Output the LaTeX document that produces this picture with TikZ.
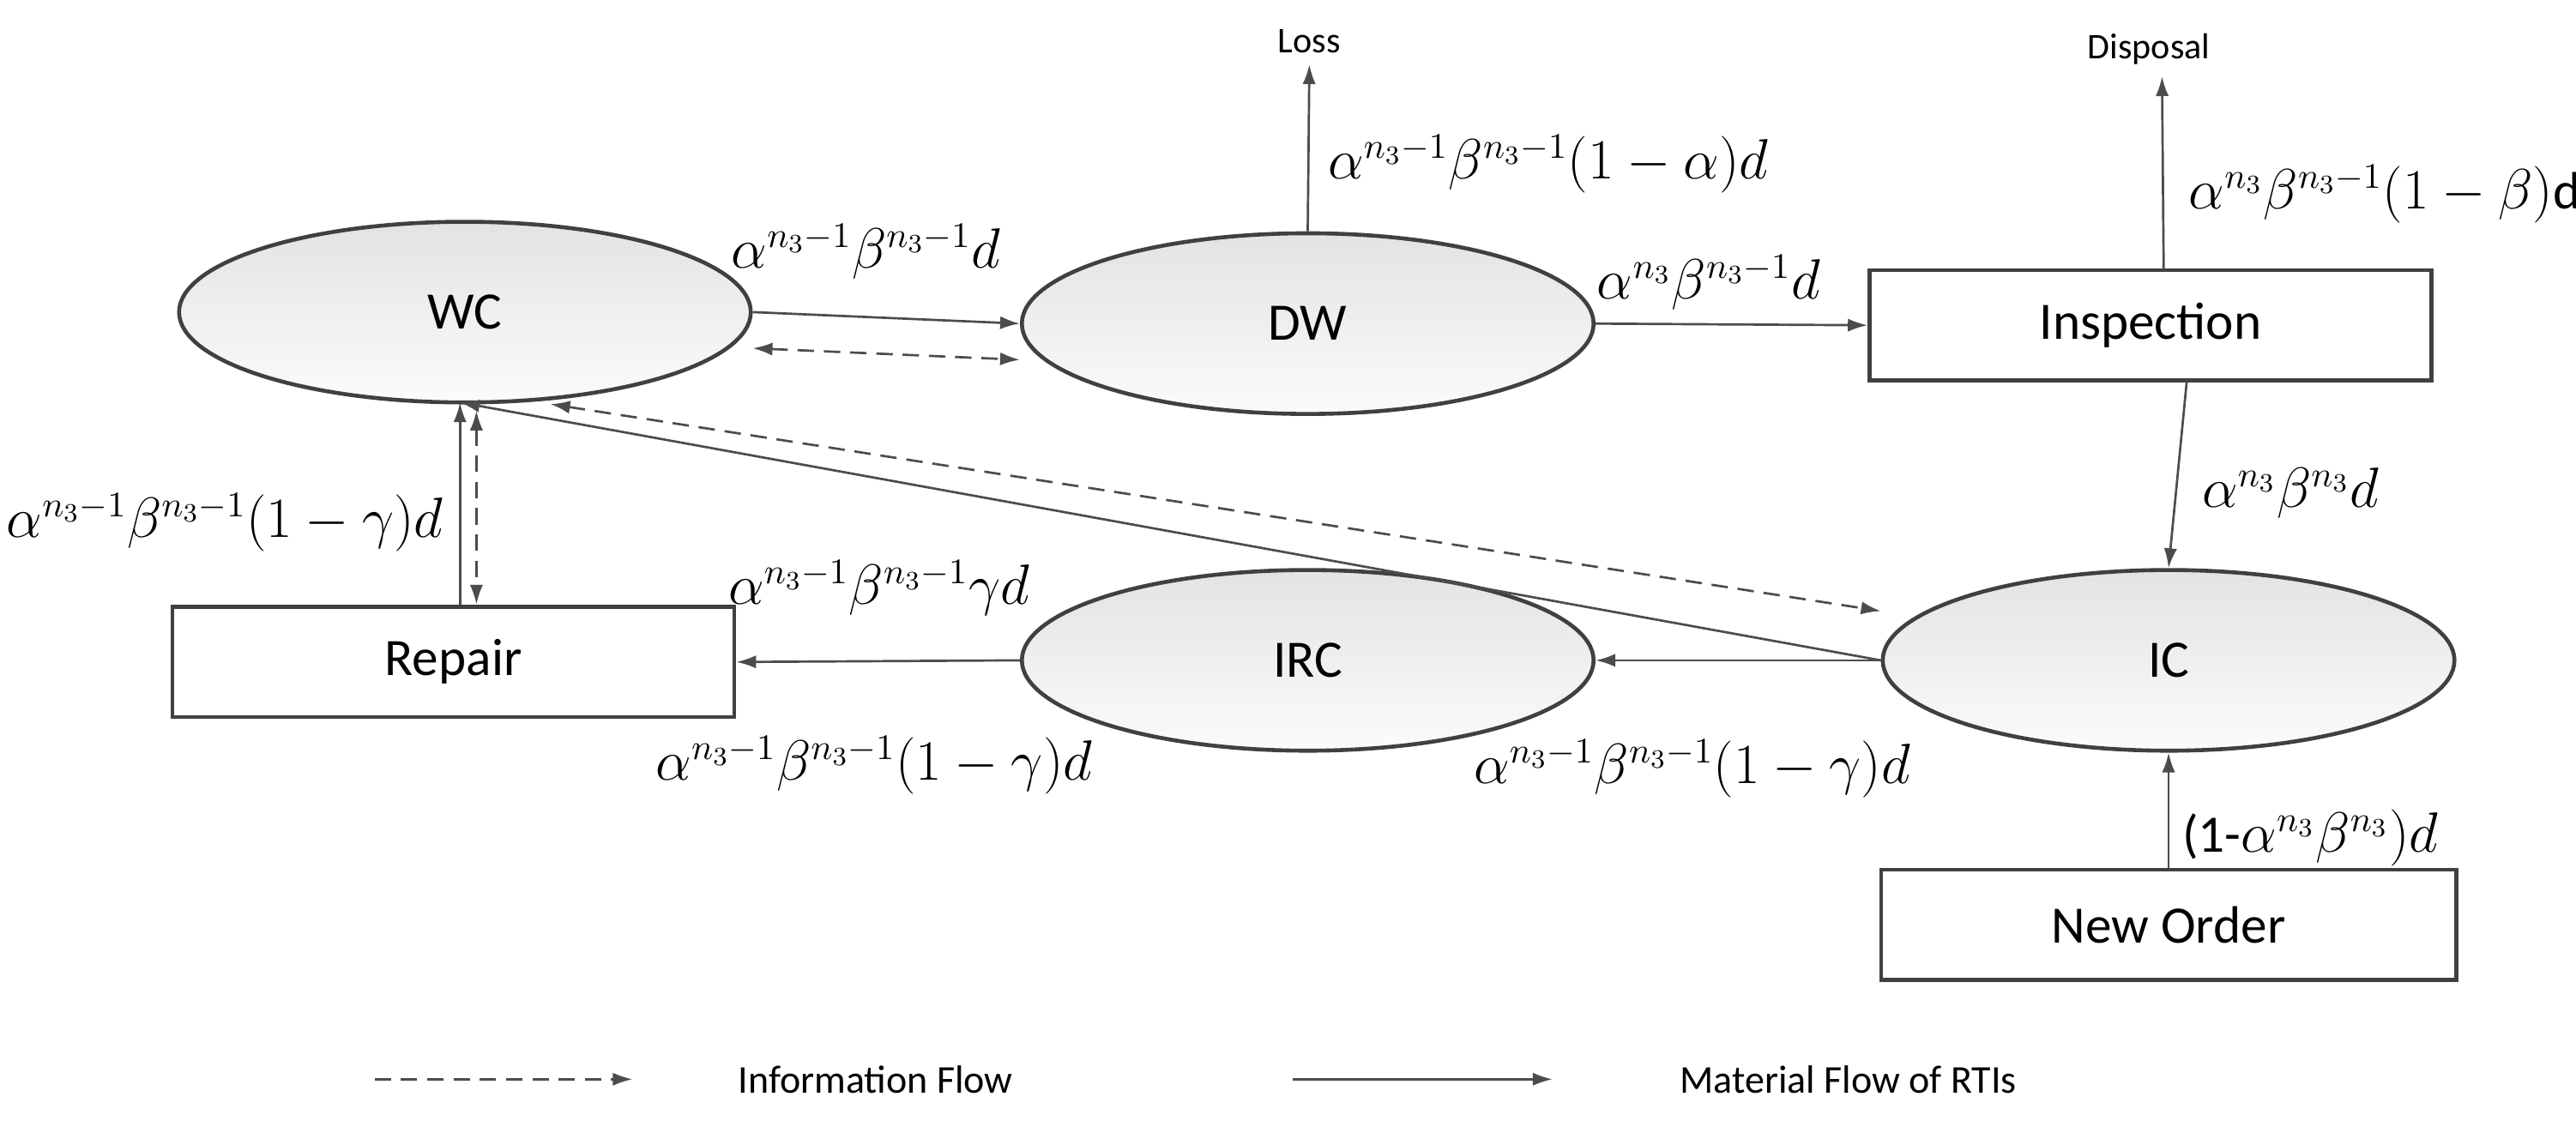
\documentclass[tikz,border=0pt]{standalone}
\usepackage{fontspec}
\setmainfont{Carlito}
\usetikzlibrary{arrows.meta,shapes.geometric}
\begin{document}
\begin{tikzpicture}[x=0.5pt,y=0.5pt,
  ell/.style={draw=black!75,line width=1.2pt,ellipse,inner sep=0pt,minimum width=174pt,minimum height=55pt,top color=gray!22,bottom color=gray!3,font=\fontsize{16}{18}\selectfont},
  box/.style={draw=black!75,line width=1.2pt,rectangle,minimum width=171pt,minimum height=33.5pt,font=\fontsize{16}{18}\selectfont},
  flow/.style={draw=black!70,line width=0.7pt,-{Latex[length=6pt,width=4pt]}},
  info/.style={flow,dashed,dash pattern=on 5pt off 3pt},
  info2/.style={info,{Latex[length=6pt,width=4pt]}-{Latex[length=6pt,width=4pt]}},
  lab/.style={font=\fontsize{16}{19}\selectfont,inner sep=1pt},
  small/.style={font=\fontsize{11}{13}\selectfont}]
\useasboundingbox (0,0) rectangle (1568,-686);
\node[ell] (WC) at (283,-190) {WC};
\node[ell] (DW) at (796,-197) {DW};
\node[box] (Insp) at (1309,-198) {Inspection};
\node[ell] (IC) at (1320,-402) {IC};
\node[ell] (IRC) at (796,-402) {IRC};
\node[box] (Rep) at (276,-403) {Repair};
\node[box,minimum width=175pt] (NO) at (1320,-563) {New Order};
\node[small] (Loss) at (797,-25) {Loss};
\node[small] (Disp) at (1308,-30) {Disposal};
\coordinate (WCb) at (280,-245);
\coordinate (WCb2) at (335,-246);
\coordinate (WCd) at (290,-250);
\coordinate (Repd) at (290,-368);
\coordinate (Repa) at (280,-368);
% arrows
\draw[flow] (WC.east) -- (DW.west);
\draw[info2] ([yshift=-11]WC.east) -- ([yshift=-11]DW.west);
\draw[flow] (DW.north) -- (Loss.south);
\draw[flow] (DW.east) -- (Insp.west);
\draw[flow] ([xshift=4]Insp.north) -- ([xshift=4]Disp.south);
\draw[flow] ([xshift=11]Insp.south) -- (IC.north);
\draw[flow] (NO.north) -- (IC.south);
\draw[flow] (IC.west) -- (IRC.east);
\draw[flow] (IRC.west) -- (Rep.east);
\draw[flow] (IC.west) -- (WCb);
\draw[info2] (WCb2) -- ([yshift=15]IC.west);
\draw[flow] (Repa) -- (WCb);
\draw[info2] (WCd) -- (Repd);
% labels
\node[lab] (l1) at (527,-153) {$\alpha^{n_3-1}\beta^{n_3-1}d$};
\node[lab,anchor=west] (l2) at (806,-100) {$\alpha^{n_3-1}\beta^{n_3-1}(1-\alpha)d$};
\node[lab] (l3) at (1040,-172) {$\alpha^{n_3}\beta^{n_3-1}d$};
\node[lab,anchor=west] (l4) at (1330,-118) {$\alpha^{n_3}\beta^{n_3-1}(1-\beta)$d};
\node[lab,anchor=west] (l5) at (1338,-300) {$\alpha^{n_3}\beta^{n_3}d$};
\node[lab,anchor=east] (l6) at (272,-318) {$\alpha^{n_3-1}\beta^{n_3-1}(1-\gamma)d$};
\node[lab] (l7) at (535,-358) {$\alpha^{n_3-1}\beta^{n_3-1}\gamma d$};
\node[lab] (l8) at (532,-466) {$\alpha^{n_3-1}\beta^{n_3-1}(1-\gamma)d$};
\node[lab] (l9) at (1030,-468) {$\alpha^{n_3-1}\beta^{n_3-1}(1-\gamma)d$};
\node[lab,anchor=west] (l10) at (1326,-510) {(1-$\alpha^{n_3}\beta^{n_3})d$};
% legend
\coordinate (a1) at (228,-657); \coordinate (a2) at (385,-657);
\coordinate (b1) at (787,-657); \coordinate (b2) at (945,-657);
\draw[info] (a1) -- (a2);
\draw[flow] (b1) -- (b2);
\node[font=\fontsize{12}{14}\selectfont] (t1) at (533,-657) {Information Flow};
\node[font=\fontsize{12}{14}\selectfont] (t2) at (1125,-657) {Material Flow of RTIs};
\end{tikzpicture}
\end{document}
